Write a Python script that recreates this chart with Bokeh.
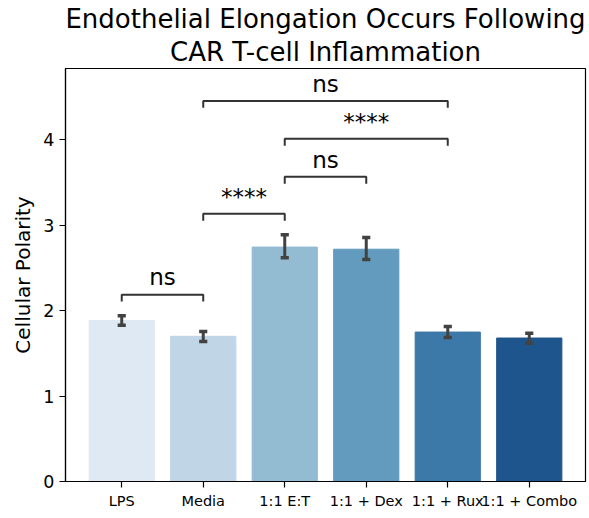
from bokeh.plotting import figure
from bokeh.models import Range1d, FixedTicker, Title, ColumnDataSource
from bokeh.core.properties import value
from bokeh.embed import file_html
from bokeh.resources import INLINE

# ---- data ----
categories = ["LPS", "Media", "1:1 E:T", "1:1 + Dex", "1:1 + Rux", "1:1 + Combo"]
means = [1.885, 1.70, 2.745, 2.72, 1.75, 1.68]
err_low = [1.83, 1.64, 2.62, 2.60, 1.686, 1.62]
err_high = [1.94, 1.755, 2.89, 2.857, 1.815, 1.736]
bar_colors = ["#dee9f3", "#c0d5e5", "#93bbd2", "#629bbe", "#3d79a8", "#1d558c"]

pair_left = [0, 1, 2, 2, 1]
pair_right = [1, 2, 3, 4, 4]
pair_level = [2.187, 3.134, 3.567, 4.012, 4.456]
pair_label = ["ns", "****", "ns", "****", "ns"]

y_ticks = [0, 1, 2, 3, 4]
title_lines = ["Endothelial Elongation Occurs Following", "CAR T-cell Inflammation"]
y_label = "Cellular Polarity"

FONT = "DejaVu Sans"
xs = list(range(len(categories)))

p = figure(width=589, height=518, output_backend="svg", toolbar_location=None,
           title=None,
           x_range=Range1d(-0.69, 5.69), y_range=Range1d(0, 4.836),
           min_border_left=65, min_border_right=4, min_border_top=68,
           min_border_bottom=37)

# titles (first added = closest to frame)
for i, line in enumerate(reversed(title_lines)):
    t = Title(text=line, align="center", text_font=FONT, text_font_size="26px",
              text_font_style="normal", text_color="black",
              standoff=3 if i == 0 else 0, offset=0)
    p.add_layout(t, "above")

# bars
src = ColumnDataSource(dict(x=xs, top=means, color=bar_colors,
                            lo=err_low, hi=err_high))
p.vbar(x="x", top="top", bottom=0, width=0.8, fill_color="color",
       line_color="color", source=src)

# error bars
p.segment(x0="x", x1="x", y0="lo", y1="hi", line_color="#424242",
          line_width=3, source=src)
cap = 0.05
p.segment(x0=[x - cap for x in xs], x1=[x + cap for x in xs], y0=err_low, y1=err_low,
          line_color="#424242", line_width=3.5)
p.segment(x0=[x - cap for x in xs], x1=[x + cap for x in xs], y0=err_high, y1=err_high,
          line_color="#424242", line_width=3.5)

# significance brackets
tip = 0.08
bx = []
by = []
for a, b, lv in zip(pair_left, pair_right, pair_level):
    bx.append([a, a, b, b])
    by.append([lv - tip, lv, lv, lv - tip])
p.multi_line(bx, by, line_color="#333333", line_width=2)
p.text(x=[(a + b) / 2 for a, b in zip(pair_left, pair_right)],
       y=[lv + 0.05 for lv in pair_level], text=pair_label, text_align="center",
       text_baseline="bottom",
       text_font=value(FONT), text_font_size="23px", text_color="black")

# axes
p.xgrid.visible = False
p.ygrid.visible = False
p.xaxis.ticker = FixedTicker(ticks=xs)
p.xaxis.major_label_overrides = {i: c for i, c in enumerate(categories)}
p.yaxis.ticker = FixedTicker(ticks=y_ticks)
p.yaxis.axis_label = y_label
for ax in (p.xaxis[0], p.yaxis[0]):
    ax.axis_line_color = "black"
    ax.axis_line_width = 1.2
    ax.major_tick_line_color = "black"
    ax.major_tick_line_width = 1.2
    ax.major_tick_out = 6
    ax.major_tick_in = 0
    ax.minor_tick_line_color = None
    ax.major_label_text_font = FONT
    ax.major_label_text_color = "black"
p.xaxis.major_label_text_font_size = "14.5px"
p.yaxis.major_label_text_font_size = "17.5px"
p.yaxis.axis_label_text_font = FONT
p.yaxis.axis_label_text_font_size = "20px"
p.yaxis.axis_label_text_font_style = "normal"
p.yaxis.axis_label_text_color = "black"
p.outline_line_color = "black"
p.outline_line_width = 1.2
p.outline_line_alpha = 1

open("out.html", "w").write(file_html(p, INLINE))
